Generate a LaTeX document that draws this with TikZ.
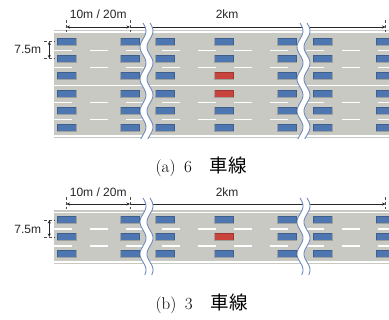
\documentclass[tikz,border=0pt]{standalone}
\usepackage{fontspec}
\usepackage{tikz}
\newfontfamily\cjk{Noto Sans CJK JP}
\newfontfamily\lblfont{Liberation Sans}
\usetikzlibrary{arrows.meta}
\definecolor{roadgray}{RGB}{201,201,196}
\definecolor{carblue}{RGB}{78,118,176}
\definecolor{carred}{RGB}{200,68,60}
\definecolor{wavecol}{RGB}{112,140,190}
\tikzset{
  roadbed/.style={fill=roadgray},
  roadedge/.style={white, line width=1.5pt},
  lane/.style={white, line width=1.2pt, dash pattern=on 18pt off 18pt},
  car/.style={draw=black, draw opacity=0.2, fill=carblue, line width=0.4pt,
    minimum width=19pt, minimum height=7pt, inner sep=0pt},
  dimline/.style={black!85, line width=0.5pt, >={Stealth[length=3.5pt, width=3pt]}},
  dimtick/.style={black!70, line width=0.4pt, densely dashed},
  lbl/.style={font=\lblfont\fontsize{12}{13}\selectfont, inner sep=0pt},
  caption/.style={font=\fontsize{17}{20}\selectfont, inner sep=0pt},
  wave/.style={wavecol, line width=0.9pt}
}
\newcommand\sha[1]{{\cjk\fontsize{18.5}{20}\selectfont #1}}
\begin{document}
\begin{tikzpicture}[x=1pt, y=-1pt]
  \useasboundingbox (0,0) rectangle (389,320);

  \fill[roadbed] (54,30) rectangle (389,138);
  \draw[roadedge] (54,32) -- (389,32);
  \draw[roadedge] (54,85.3) -- (389,85.3);
  \draw[roadedge] (54,135.8) -- (389,135.8);
  \foreach \y in {50.5,67.5,102.5,119.5}
    \draw[lane] (54,\y) -- (389,\y);
  \foreach \col/\x in {1/66.5,2/130,3/165,5/287,6/322.5,7/385.5}
    \foreach \row/\y in {1/41.5,2/58.5,3/75.5,4/93.5,5/110.5,6/127.5}
      \node[car] (a-\col-\row) at (\x,\y) {};
  \foreach \row/\y/\c in {1/41.5/carblue,2/58.5/carblue,3/75.5/carred,4/93.5/carred,5/110.5/carblue,6/127.5/carblue}
    \node[car, fill=\c] (a-4-\row) at (224,\y) {};

  \foreach \col in {1,2,7}
    \draw[dimtick] (a-\col-1 |- 0,20) -- (a-\col-1 |- 0,32);
  \draw[dimline, <->] (a-1-1 |- 0,27) -- node[lbl, anchor=base, yshift=8.4pt] (a-short) {10m / 20m} (a-2-1 |- 0,27);
  \draw[dimline, ->] (a-2-1 |- 0,27) -- node[lbl, pos=0.38, anchor=base, yshift=8.4pt] (a-long) {2km} (a-7-1 |- 0,27);
  \foreach \row in {1,2}
    \draw[dimtick] ([xshift=-13pt]a-1-\row.west) -- ([xshift=-2pt]a-1-\row.west);
  \draw[dimline, <->] ([xshift=-7.5pt]a-1-1.west) -- node[lbl, anchor=base east, xshift=-8pt, yshift=-4pt] (a-gap) {7.5m} ([xshift=-7.5pt]a-1-2.west);

  \fill[roadbed] (54,210) rectangle (389,264.5);
  \draw[roadedge] (54,212.3) -- (389,212.3);
  \draw[roadedge] (54,262.2) -- (389,262.2);
  \foreach \y in {229,246}
    \draw[lane] (54,\y) -- (389,\y);
  \foreach \col/\x in {1/66.5,2/130,3/165,5/287,6/322.5,7/385.5}
    \foreach \row/\y in {1/220,2/237,3/254}
      \node[car] (b-\col-\row) at (\x,\y) {};
  \foreach \row/\y/\c in {1/220/carblue,2/237/carred,3/254/carblue}
    \node[car, fill=\c] (b-4-\row) at (224,\y) {};

  \foreach \col in {1,2,7}
    \draw[dimtick] (b-\col-1 |- 0,197) -- (b-\col-1 |- 0,209);
  \draw[dimline, <->] (b-1-1 |- 0,204) -- node[lbl, anchor=base, yshift=7pt] (b-short) {10m / 20m} (b-2-1 |- 0,204);
  \draw[dimline, ->] (b-2-1 |- 0,204) -- node[lbl, pos=0.38, anchor=base, yshift=7pt] (b-long) {2km} (b-7-1 |- 0,204);
  \foreach \row in {1,2}
    \draw[dimtick] ([xshift=-13pt]b-1-\row.west) -- ([xshift=-2pt]b-1-\row.west);
  \draw[dimline, <->] ([xshift=-7.5pt]b-1-1.west) -- node[lbl, anchor=base east, xshift=-8pt, yshift=-4.8pt] (b-gap) {7.5m} ([xshift=-7.5pt]b-1-2.west);

  \foreach \cx/\ya/\yb in {146.5/23/139,303.5/23/139,146.5/198/275,303.5/198/275} {
    \fill[white] plot[domain=\ya:\yb, samples=60] ({\cx-3.5+3*sin(11.25*(\x-\ya))},\x)
      -- plot[domain=\yb:\ya, samples=60] ({\cx+3.5+3*sin(11.25*(\x-\ya))},\x) -- cycle;
    \draw[wave] plot[domain=\ya:\yb, samples=60] ({\cx-3.5+3*sin(11.25*(\x-\ya))},\x);
    \draw[wave] plot[domain=\ya:\yb, samples=60] ({\cx+3.5+3*sin(11.25*(\x-\ya))},\x);
  }

  \node[caption, anchor=base west] (cap-a) at (155.5,172.5) {(a)\hspace{8.5pt}6\hspace{18pt}\sha{車線}};
  \node[caption, anchor=base west] (cap-b) at (155.5,309.5) {(b)\hspace{8.5pt}3\hspace{18pt}\sha{車線}};
\end{tikzpicture}
\end{document}
